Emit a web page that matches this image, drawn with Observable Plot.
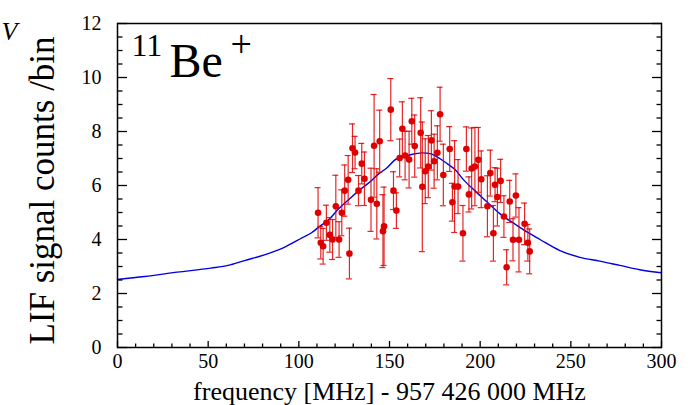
<!DOCTYPE html>
<html>
<head>
<meta charset="utf-8">
<script src="https://cdn.jsdelivr.net/npm/d3@7"></script>
<script src="https://cdn.jsdelivr.net/npm/@observablehq/plot@0.6"></script>
<style>
  html, body { margin: 0; padding: 0; background: #fff; }
  #chart { width: 695px; height: 405px; overflow: hidden; }
</style>
</head>
<body>
<div id="chart"></div>
<script>
// Measured data points (frequency offset in MHz, LIF counts per bin, error)
const freq = [110.6,112.1,113.4,115.2,117.1,118.6,120.4,122.2,123.7,125.3,127.2,127.9,129.6,131.0,132.9,134.7,136.2,139.8,141.5,143.0,144.6,146.4,147.0,
  150.7,152.2,153.8,155.6,157.1,158.6,160.8,162.3,163.9,167.2,168.1,169.7,171.4,173.1,174.6,176.4,177.9,179.7,183.2,184.7,185.9,187.8,
  190.5,192.4,193.8,195.3,197.1,199.0,200.6,204.0,205.6,207.3,208.2,209.5,211.3,213.1,214.6,216.3,218.1,219.7,221.4,224.5,226.3,227.3];
const counts = [4.99,3.88,3.75,4.62,4.17,4.00,5.23,4.00,4.99,5.81,6.21,3.48,7.38,7.22,5.81,6.81,6.25,5.47,7.47,5.32,7.64,4.31,4.49,
  8.81,5.81,5.07,7.02,8.10,7.11,6.96,8.38,7.46,7.95,5.95,6.53,6.70,7.67,6.90,7.21,8.64,6.39,7.35,5.38,5.96,5.96,
  4.23,7.35,5.67,6.63,6.70,6.95,6.23,5.23,6.46,4.23,6.03,5.57,6.17,4.85,2.97,5.41,3.99,5.63,3.99,4.58,3.88,3.56];
const errors = [0.93,0.60,0.66,0.65,0.64,0.74,1.15,0.66,0.85,0.95,0.90,0.94,0.90,0.60,0.56,0.75,0.99,1.17,1.90,1.30,1.15,1.35,1.45,
  1.15,0.70,0.66,0.70,1.00,0.90,1.05,0.85,1.15,1.30,2.40,1.20,1.15,1.10,1.00,1.00,1.00,1.14,0.83,0.70,1.70,1.00,
  1.03,0.82,0.65,1.50,1.45,1.20,1.05,1.13,0.85,1.03,0.63,1.07,0.80,0.77,0.65,0.78,0.78,0.80,1.19,0.77,0.68,0.83];

// Fit curve
const curveFreq = [0,15,33,51.5,61,70,81,92,102,107,111,117,122,128,133,139,144,148,154,156,162,168,173,175,180,182,186,191,197,204,211,219,226,233,244,255,266,277,288,300];
const curveCounts = [2.52,2.63,2.79,2.94,3.04,3.22,3.43,3.71,4.07,4.25,4.46,4.77,5.14,5.51,5.81,6.12,6.43,6.62,6.99,7.02,7.15,7.21,7.17,7.11,6.90,6.80,6.60,6.20,5.81,5.38,4.95,4.58,4.27,4.00,3.59,3.34,3.20,3.04,2.88,2.77];

// Axis ticks and labels
const xMajor = [0,50,100,150,200,250,300];
const xMinor = [10,20,30,40,60,70,80,90,110,120,130,140,160,170,180,190,210,220,230,240,260,270,280,290];
const yMajor = [0,2,4,6,8,10,12];
const yMinor = [0.5,1,1.5,2.5,3,3.5,4.5,5,5.5,6.5,7,7.5,8.5,9,9.5,10.5,11,11.5];
const xTitle = "frequency [MHz] - 957 426 000 MHz";
const yTitle = "LIF signal counts /bin";

const points = freq.map((f, i) => ({f, v: counts[i], e: errors[i]}));
const curve = curveFreq.map((f, i) => ({f, v: curveCounts[i]}));

const red = "rgb(222,0,0)";
const blue = "rgb(0,0,225)";
const noText = () => "";

const chart = Plot.plot({
  width: 695,
  height: 405,
  marginLeft: 117,
  marginRight: 34,
  marginTop: 23,
  marginBottom: 58,
  style: {fontFamily: "'Liberation Serif', 'DejaVu Serif', serif", fontSize: "20px", background: "#fff", color: "#000"},
  x: {domain: [0, 300], label: null},
  y: {domain: [0, 12], label: null},
  marks: [
    // blue fit curve
    Plot.line(curve, {x: "f", y: "v", stroke: blue, strokeWidth: 1.4, curve: "monotone-x"}),
    // error bars
    Plot.ruleX(points, {x: "f", y1: d => d.v - d.e, y2: d => d.v + d.e, stroke: red, strokeWidth: 1.2, strokeOpacity: 0.85}),
    Plot.ruleY(points, {y: d => d.v - d.e, x1: "f", x2: "f", insetLeft: -3, insetRight: -3, stroke: red, strokeWidth: 1.2, strokeOpacity: 0.85}),
    Plot.ruleY(points, {y: d => d.v + d.e, x1: "f", x2: "f", insetLeft: -3, insetRight: -3, stroke: red, strokeWidth: 1.2, strokeOpacity: 0.85}),
    Plot.dot(points, {x: "f", y: "v", r: 3.3, fill: red, stroke: "none"}),
    // frame and ticks
    Plot.frame({stroke: "#000", strokeWidth: 1.5}),
    Plot.axisX({ticks: xMajor, tickSize: -6, tickFormat: noText, label: null, strokeWidth: 1.3}),
    Plot.axisX({ticks: xMinor, tickSize: -3.5, tickFormat: noText, label: null, strokeWidth: 1.3}),
    Plot.axisX({ticks: xMajor, tickSize: 0, tickPadding: 6, tickFormat: d => String(d), label: null, fontSize: 20}),
    Plot.axisY({ticks: yMajor, tickSize: -10, tickFormat: noText, label: null, strokeWidth: 1.3}),
    Plot.axisY({ticks: yMinor, tickSize: -5.5, tickFormat: noText, label: null, strokeWidth: 1.3}),
    Plot.axisY({anchor: "right", ticks: yMajor, tickSize: -10, tickFormat: noText, label: null, strokeWidth: 1.3}),
    Plot.axisY({anchor: "right", ticks: yMinor, tickSize: -5.5, tickFormat: noText, label: null, strokeWidth: 1.3}),
    Plot.axisY({ticks: yMajor, tickSize: 0, tickPadding: 16, tickFormat: d => String(d), label: null, fontSize: 20}),
    // axis titles
    Plot.text([xTitle], {frameAnchor: "bottom", textAnchor: "middle", lineAnchor: "bottom", dy: 52, fontSize: 26, fill: "#000"}),
    Plot.text([yTitle], {frameAnchor: "left", textAnchor: "middle", lineAnchor: "bottom", rotate: -90, dx: -64, dy: 5, fontSize: 35, fill: "#000"}),
    // isotope label 11Be+
    Plot.text(["11"], {frameAnchor: "top-left", textAnchor: "start", lineAnchor: "bottom", dx: 14, dy: 32, fontSize: 32, fill: "#000"}),
    Plot.text(["Be"], {frameAnchor: "top-left", textAnchor: "start", lineAnchor: "bottom", dx: 52, dy: 53, fontSize: 48, fill: "#000"}),
    Plot.text(["+"], {frameAnchor: "top-left", textAnchor: "start", lineAnchor: "bottom", dx: 113, dy: 33, fontSize: 38, fill: "#000"}),
    // glyph at the very top-left edge
    Plot.text(["V"], {frameAnchor: "top-left", textAnchor: "start", lineAnchor: "bottom", dx: -116, dy: 16, fontSize: 26, fontStyle: "italic", fill: "#000"})
  ]
});
document.getElementById("chart").appendChild(chart);
</script>
</body>
</html>
